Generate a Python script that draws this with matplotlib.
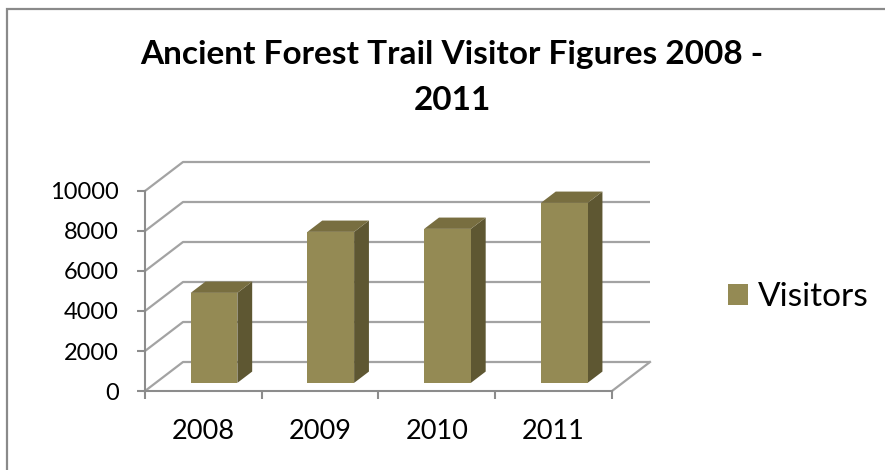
import matplotlib.pyplot as plt
from matplotlib.patches import Polygon, Rectangle, Patch

# visitor numbers per year
years = ["2008", "2009", "2010", "2011"]
visitors = [4500, 7550, 7700, 9000]
y_ticks = [0, 2000, 4000, 6000, 8000, 10000]
series_name = "Visitors"
title_lines = ["Ancient Forest Trail Visitor Figures 2008 -", "2011"]

face_front = "#948a54"
face_top = "#786e40"
face_side = "#5e5732"
grid_color = "#a3a3a3"
axis_color = "#8c8c8c"

plt.rcParams["font.family"] = ["Lato", "DejaVu Sans"]

W, H = 885, 470
fig = plt.figure(figsize=(W / 100, H / 100), dpi=100)
fig.patch.set_facecolor("white")

# outer chart border (runs off the right and bottom edges)
fig.patches.append(Rectangle((7 / W, -0.05), 1.1, 1 - 9 / H + 0.05, transform=fig.transFigure,
                             fill=False, edgecolor="#8a8a8a", lw=1.6))

# plot area box in pixels: left, top, right, bottom
box = (100, 120, 700, 420)
ax = fig.add_axes([box[0] / W, 1 - box[3] / H, (box[2] - box[0]) / W, (box[3] - box[1]) / H])

# front plane origin and scale in pixels
x0_px, y0_px = 145, 391
px_cat = 116.75
px_val = 0.02
ax.set_xlim((box[0] - x0_px) / px_cat, (box[2] - x0_px) / px_cat)
ax.set_ylim((y0_px - box[3]) / px_val, (y0_px - box[1]) / px_val)
ax.patch.set_visible(False)

# oblique depth of the 3-D box (data units)
depth_x = 38 / px_cat
depth_y = 29 / px_val
n = len(years)

# back wall gridlines + left wall diagonals
for v in y_ticks:
    ax.plot([0, depth_x, n + depth_x], [v, v + depth_y, v + depth_y],
            color=grid_color, lw=1.6, zorder=1, solid_capstyle="butt")
# right edge of the floor
ax.plot([n, n + depth_x], [0, depth_y], color=grid_color, lw=1.6, zorder=1)

# 3-D columns
bar_w = 0.4
d_front, d_back = 0.28, 0.67
for i, v in enumerate(visitors):
    xl = i + 0.5 - bar_w / 2
    xr = xl + bar_w
    fx, fy = d_front * depth_x, d_front * depth_y
    bx, by = d_back * depth_x, d_back * depth_y
    front = [(xl + fx, fy), (xr + fx, fy), (xr + fx, v + fy), (xl + fx, v + fy)]
    top = [(xl + fx, v + fy), (xr + fx, v + fy), (xr + bx, v + by), (xl + bx, v + by)]
    side = [(xr + fx, fy), (xr + bx, by), (xr + bx, v + by), (xr + fx, v + fy)]
    ax.add_patch(Polygon(side, closed=True, facecolor=face_side, edgecolor="none", zorder=3))
    ax.add_patch(Polygon(top, closed=True, facecolor=face_top, edgecolor="none", zorder=3))
    ax.add_patch(Polygon(front, closed=True, facecolor=face_front, edgecolor="none", zorder=3))

# axes
for s in ["top", "right"]:
    ax.spines[s].set_visible(False)
ax.spines["left"].set_position(("data", 0))
ax.spines["bottom"].set_position(("data", 0))
ax.spines["left"].set_bounds(0, y_ticks[-1])
ax.spines["bottom"].set_bounds(0, n)
for s in ["left", "bottom"]:
    ax.spines[s].set_color(axis_color)
    ax.spines[s].set_linewidth(1.5)

ax.set_yticks(y_ticks)
ax.set_yticklabels([str(t) for t in y_ticks])
ax.tick_params(axis="y", direction="out", length=6, width=1.5, color=axis_color,
               labelsize=17, pad=13, labelcolor="black")

ax.set_xticks(range(n + 1))
ax.set_xticklabels([])
ax.set_xticks([i + 0.5 for i in range(n)], minor=True)
ax.set_xticklabels(years, minor=True)
ax.tick_params(axis="x", which="major", direction="out", length=6, width=1.5, color=axis_color)
ax.tick_params(axis="x", which="minor", length=0, labelsize=19.5, pad=20, labelcolor="black")

# title, wrapped onto two lines
fig.text(452 / W, 1 - 64 / H, title_lines[0], ha="center", va="baseline",
         fontsize=24, fontweight="bold")
fig.text(452 / W, 1 - 110 / H, title_lines[1], ha="center", va="baseline",
         fontsize=24, fontweight="bold")

# legend
fig.legend(handles=[Patch(facecolor=face_front, label=series_name)],
           loc="center left", bbox_to_anchor=(728 / W, 1 - 297 / H),
           frameon=False, fontsize=24, handlelength=0.6, handleheight=0.6,
           handletextpad=0.3, borderpad=0, borderaxespad=0)

fig.savefig("out.png", dpi=100)
